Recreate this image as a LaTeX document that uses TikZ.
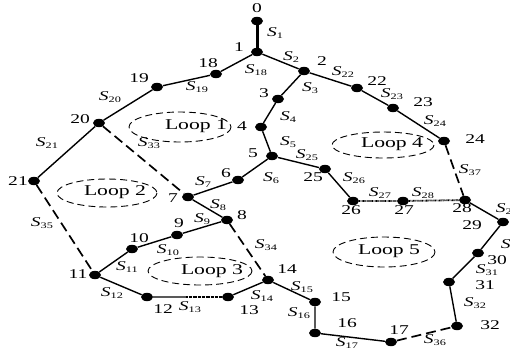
\documentclass[tikz,border=0pt]{standalone}
\usepackage{fontspec}
\usepackage{graphicx}
\setmainfont{Liberation Serif}
\usetikzlibrary{shapes.geometric}

% widened text, as in the printed network sketch
\newcommand\wide[1]{\scalebox{1.45}[1]{#1}}
\newcommand\seg[1]{\wide{{\fontsize{13.5}{13.5}\selectfont\textit{S}}\raisebox{-0.5ex}{\fontsize{8.5}{8.5}\selectfont #1}}}

\tikzset{
  bus/.style={shape=ellipse, fill=black, draw=none, inner sep=0pt,
              minimum width=12bp, minimum height=8.4bp},
  num/.style={inner sep=0pt, font=\fontsize{13.5}{13.5}\selectfont},
  seglabel/.style={inner sep=0pt},
  line/.style={line width=1.4bp},
  feeder/.style={line width=3bp},
  tie/.style={line width=1.7bp, dash pattern=on 10bp off 5bp},
  closed/.style={line width=1.8bp, dash pattern=on 0.7bp off 0.6bp},
  loopring/.style={draw, line width=0.9bp, dash pattern=on 7bp off 4bp},
  looptext/.style={inner sep=0pt, font=\fontsize{15}{15}\selectfont}
}

\begin{document}
\begin{tikzpicture}[x=1bp, y=-1bp]
\useasboundingbox (0,0) rectangle (510,354);

% buses
\node[bus] (n0)  at (257,21)  {};
\node[bus] (n1)  at (257,52)  {};
\node[bus] (n2)  at (304,71)  {};
\node[bus] (n3)  at (278,99)  {};
\node[bus] (n4)  at (261,127) {};
\node[bus] (n5)  at (272,156) {};
\node[bus] (n6)  at (238,180) {};
\node[bus] (n7)  at (188,197) {};
\node[bus] (n8)  at (227,220) {};
\node[bus] (n9)  at (177,235) {};
\node[bus] (n10) at (132,249) {};
\node[bus] (n11) at (95,275)  {};
\node[bus] (n12) at (147,297) {};
\node[bus] (n13) at (228,297) {};
\node[bus] (n14) at (268,280) {};
\node[bus] (n15) at (315,302) {};
\node[bus] (n16) at (315,333) {};
\node[bus] (n17) at (391,342) {};
\node[bus] (n18) at (216,74)  {};
\node[bus] (n19) at (157,87)  {};
\node[bus] (n20) at (99,123)  {};
\node[bus] (n21) at (34,181)  {};
\node[bus] (n22) at (357,88)  {};
\node[bus] (n23) at (393,108) {};
\node[bus] (n24) at (444,141) {};
\node[bus] (n25) at (325,169) {};
\node[bus] (n26) at (353,201) {};
\node[bus] (n27) at (403,201) {};
\node[bus] (n28) at (465,200) {};
\node[bus] (n29) at (503,222) {};
\node[bus] (n30) at (478,253) {};
\node[bus] (n31) at (449,282) {};
\node[bus] (n32) at (457,326) {};
\coordinate (m1213) at (186,297);

% branches
\draw[feeder] (n0) -- (n1);
\draw[line] (n1) -- (n2) -- (n3) -- (n4) -- (n5) -- (n6) -- (n7) -- (n8)
            -- (n9) -- (n10) -- (n11) -- (n12) -- (m1213);
\draw[closed] (m1213) -- (n13);
\draw[line] (n13) -- (n14) -- (n15) -- (n16) -- (n17);
\draw[line] (n1) -- (n18) -- (n19) -- (n20) -- (n21);
\draw[line] (n2) -- (n22) -- (n23) -- (n24);
\draw[line] (n5) -- (n25) -- (n26);
\draw[closed] (n26) -- (n27) -- (n28);
\draw[line] (n28) -- (n29) -- (n30) -- (n31) -- (n32);

% tie switches
\draw[tie] (n20) -- (n7);
\draw[tie] (n21) -- (n11);
\draw[tie] (n8) -- (n14);
\draw[tie] (n24) -- (n28);
\draw[tie] (n17) -- (n32);

% loops
\draw[loopring] (180,127) ellipse [x radius=51, y radius=15];
\draw[loopring] (107,193) ellipse [x radius=50, y radius=14];
\draw[loopring] (200,271) ellipse [x radius=52, y radius=14];
\draw[loopring] (383,145) ellipse [x radius=51, y radius=13];
\draw[loopring] (384,252) ellipse [x radius=51, y radius=15];
\node[looptext] (L1) at (196,126) {\wide{Loop 1}};
\node[looptext] (L2) at (115,192) {\wide{Loop 2}};
\node[looptext] (L3) at (212,271) {\wide{Loop 3}};
\node[looptext] (L4) at (392,144) {\wide{Loop 4}};
\node[looptext] (L5) at (389,251) {\wide{Loop 5}};

% bus numbers
\node[num] (t0)  at (257,8)   {\wide{0}};
\node[num] (t1)  at (239,47)  {\wide{1}};
\node[num] (t2)  at (322,61)  {\wide{2}};
\node[num] (t3)  at (264,93)  {\wide{3}};
\node[num] (t4)  at (242,126) {\wide{4}};
\node[num] (t5)  at (253,153) {\wide{5}};
\node[num] (t6)  at (226,173) {\wide{6}};
\node[num] (t7)  at (173,198) {\wide{7}};
\node[num] (t8)  at (242,215) {\wide{8}};
\node[num] (t9)  at (179,223) {\wide{9}};
\node[num] (t10) at (139,238) {\wide{10}};
\node[num] (t11) at (78,274)  {\wide{11}};
\node[num] (t12) at (163,309) {\wide{12}};
\node[num] (t13) at (249,310) {\wide{13}};
\node[num] (t14) at (287,269) {\wide{14}};
\node[num] (t15) at (341,297) {\wide{15}};
\node[num] (t16) at (347,323) {\wide{16}};
\node[num] (t17) at (399,330) {\wide{17}};
\node[num] (t18) at (208,63)  {\wide{18}};
\node[num] (t19) at (139,78)  {\wide{19}};
\node[num] (t20) at (80,119)  {\wide{20}};
\node[num] (t21) at (18,181)  {\wide{21}};
\node[num] (t22) at (377,81)  {\wide{22}};
\node[num] (t23) at (423,102) {\wide{23}};
\node[num] (t24) at (475,139) {\wide{24}};
\node[num] (t25) at (313,177) {\wide{25}};
\node[num] (t26) at (351,210) {\wide{26}};
\node[num] (t27) at (404,210) {\wide{27}};
\node[num] (t28) at (462,208) {\wide{28}};
\node[num] (t29) at (472,225) {\wide{29}};
\node[num] (t30) at (497,260) {\wide{30}};
\node[num] (t31) at (485,285) {\wide{31}};
\node[num] (t32) at (490,325) {\wide{32}};

% branch labels
\node[seglabel] (s1)  at (275,33)  {\seg{1}};
\node[seglabel] (s2)  at (291,57)  {\seg{2}};
\node[seglabel] (s3)  at (310,88)  {\seg{3}};
\node[seglabel] (s4)  at (288,117) {\seg{4}};
\node[seglabel] (s5)  at (288,142) {\seg{5}};
\node[seglabel] (s6)  at (271,178) {\seg{6}};
\node[seglabel] (s7)  at (203,182) {\seg{7}};
\node[seglabel] (s8)  at (218,205) {\seg{8}};
\node[seglabel] (s9)  at (202,219) {\seg{9}};
\node[seglabel] (s10) at (168,250) {\seg{10}};
\node[seglabel] (s11) at (127,267) {\seg{11}};
\node[seglabel] (s12) at (112,293) {\seg{12}};
\node[seglabel] (s13) at (190,307) {\seg{13}};
\node[seglabel] (s14) at (262,296) {\seg{14}};
\node[seglabel] (s15) at (302,287) {\seg{15}};
\node[seglabel] (s16) at (299,313) {\seg{16}};
\node[seglabel] (s17) at (347,343) {\seg{17}};
\node[seglabel] (s18) at (256,70)  {\seg{18}};
\node[seglabel] (s19) at (197,87)  {\seg{19}};
\node[seglabel] (s20) at (110,97)  {\seg{20}};
\node[seglabel] (s21) at (47,143)  {\seg{21}};
\node[seglabel] (s22) at (343,72)  {\seg{22}};
\node[seglabel] (s23) at (392,94)  {\seg{23}};
\node[seglabel] (s24) at (435,121) {\seg{24}};
\node[seglabel] (s25) at (307,155) {\seg{25}};
\node[seglabel] (s26) at (354,178) {\seg{26}};
\node[seglabel] (s27) at (380,193) {\seg{27}};
\node[seglabel] (s28) at (423,193) {\seg{28}};
\node[seglabel] (s29) at (507,209) {\seg{29}};
\node[seglabel] (s30) at (512,245) {\seg{30}};
\node[seglabel] (s31) at (487,270) {\seg{31}};
\node[seglabel] (s32) at (475,303) {\seg{32}};
\node[seglabel] (s33) at (149,143) {\seg{33}};
\node[seglabel] (s34) at (266,245) {\seg{34}};
\node[seglabel] (s35) at (42,223)  {\seg{35}};
\node[seglabel] (s36) at (435,340) {\seg{36}};
\node[seglabel] (s37) at (470,170) {\seg{37}};
\end{tikzpicture}
\end{document}
